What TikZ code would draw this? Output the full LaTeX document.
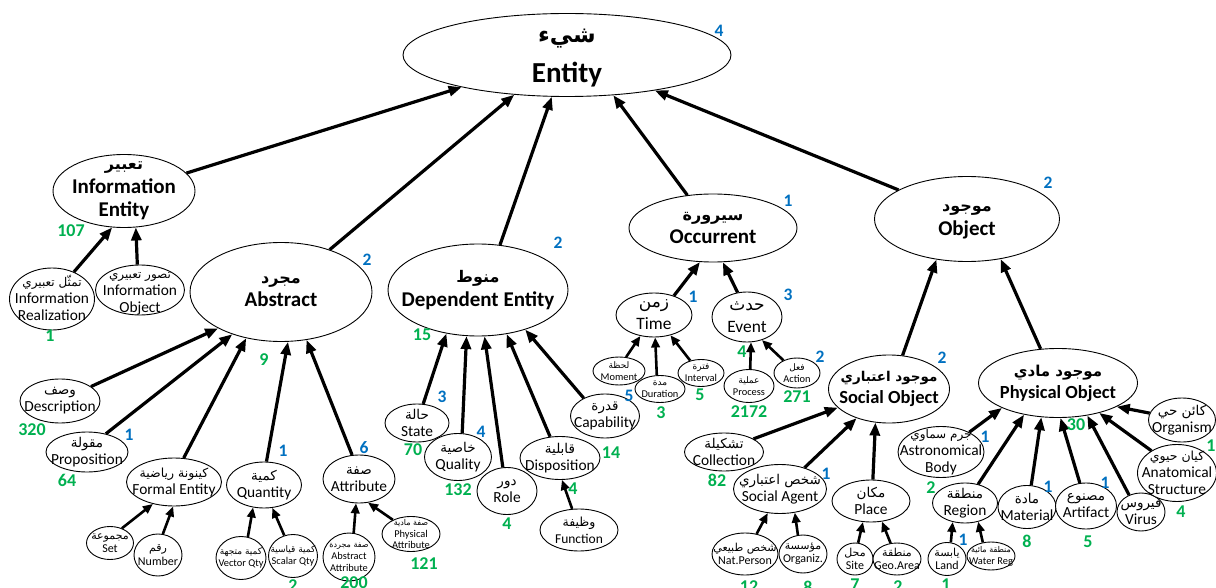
\documentclass[tikz,border=0pt]{standalone}
\usepackage{fontspec}
\setmainfont{Carlito}
\newfontfamily\arf[Script=Arabic]{DejaVu Sans}
\TeXXeTstate=1
\usetikzlibrary{shapes.geometric,arrows.meta}
\definecolor{gnum}{RGB}{0,176,80}
\definecolor{bnum}{RGB}{0,112,192}
\def\arsz{12}
\newcommand\AR[1]{{\arf\fontsize{\arsz}{\arsz}\selectfont #1}}
\newcommand\EN[8]{%
  \node[ell,minimum width=#4pt,minimum height=#5pt] (#1) at (#2,#3) {};
  \node[#6] (#1t) at (#1) {\AR{#7}\\#8};}
\newcommand\NM[5]{\node[#4] (#1) at (#2,#3) {#5};}
\tikzset{
  ars/.code={\def\arsz{#1}},
  ell/.style={draw,ellipse,line width=0.9pt,inner sep=0pt,fill=white},
  t0/.style={align=center,inner sep=0pt,font=\fontsize{29}{40}\selectfont\bfseries,ars=23},
  t1/.style={align=center,inner sep=0pt,font=\fontsize{21}{23.5}\selectfont\bfseries,ars=16},
  t2/.style={align=center,inner sep=0pt,font=\fontsize{15.4}{17}\selectfont,ars=13.5},
  tf/.style={align=center,inner sep=0pt,font=\fontsize{13.5}{17}\selectfont,ars=12.5},
  t2e/.style={align=center,inner sep=0pt,font=\fontsize{17.4}{22}\selectfont,ars=17},
  t2o/.style={align=center,inner sep=0pt,font=\fontsize{18.5}{22}\selectfont\bfseries,ars=15},
  t3/.style={align=center,inner sep=0pt,font=\fontsize{10.4}{11.8}\selectfont,ars=9},
  t3b/.style={align=center,inner sep=0pt,font=\fontsize{12}{13.5}\selectfont,ars=11},
  gn/.style={inner sep=0pt,text=gnum,font=\fontsize{18}{18}\selectfont\bfseries},
  bl/.style={inner sep=0pt,text=bnum,font=\fontsize{17.5}{17.5}\selectfont\bfseries},
  arr/.style={line width=3.2pt,-{Triangle[length=13pt,width=10pt]}},
  arrs/.style={line width=2.6pt,-{Triangle[length=10pt,width=8.5pt]}},
}
\begin{document}
\begin{tikzpicture}[x=1pt,y=-1pt]
\useasboundingbox (0,0) rectangle (1216,588);
\EN{ent}{567}{55}{328}{83}{t0,yshift=-3pt}{\beginR شيء\endR}{Entity}
\EN{ie}{124}{191}{142}{73}{t1}{\beginR تعبير\endR}{Information\\Entity}
\EN{ir}{52}{299}{85}{62}{t2,ars=12,yshift=1pt}{\beginR تمثّل تعبيري\endR}{Information\\Realization}
\EN{io}{140}{290}{89}{50}{t2,ars=12,yshift=-4pt}{\beginR تصور تعبيري\endR}{Information\\Object}
\EN{abs}{281}{292}{182}{99}{t1}{\beginR مجرد\endR}{Abstract}
\EN{dep}{478}{290}{180}{92}{t1}{\beginR منوط\endR}{Dependent Entity}
\EN{occ}{713}{228}{168}{68}{t1}{\beginR سيرورة\endR}{Occurrent}
\EN{obj}{967}{219}{185}{85}{t1,yshift=-3pt}{\beginR موجود\endR}{Object}
\EN{desc}{60}{401}{80}{44}{t2}{\beginR وصف\endR}{Description}
\EN{prop}{87}{452}{82}{40}{t2}{\beginR مقولة\endR}{Proposition}
\EN{fe}{174}{482}{95}{48}{t2,ars=12.5}{\beginR كينونة رياضية\endR}{Formal Entity}
\EN{qty}{264}{485}{75}{46}{t2}{\beginR كمية\endR}{Quantity}
\EN{attr}{359}{479}{72}{48}{t2}{\beginR صفة\endR}{Attribute}
\EN{set}{110}{543}{47}{33}{t3b}{\beginR مجموعة\endR}{Set}
\EN{num}{158}{555}{48}{42}{t3b}{\beginR رقم\endR}{Number}
\EN{vec}{241}{558}{50}{43}{t3}{\beginR كمية متجهة\endR}{Vector Qty}
\EN{sca}{293}{556}{49}{43}{t3}{\beginR كمية قياسية\endR}{Scalar Qty}
\EN{absat}{349}{557}{52}{48}{t3,ars=8}{\beginR صفة مجردة\endR}{Abstract\\Attribute}
\EN{phyat}{411}{534}{58}{35}{t3,ars=8}{\beginR صفة مادية\endR}{Physical\\Attribute}
\EN{state}{417}{423}{64}{38}{t2}{\beginR حالة\endR}{State}
\EN{qual}{458}{457}{67}{47}{t2}{\beginR خاصية\endR}{Quality}
\EN{role}{507}{491}{60}{47}{t2}{\beginR دور\endR}{Role}
\EN{disp}{560}{458}{80}{43}{t2}{\beginR قابلية\endR}{Disposition}
\EN{cap}{605}{416}{69}{44}{t2}{\beginR قدرة\endR}{Capability}
\EN{func}{579}{530}{78}{42}{tf}{\beginR وظيفة\endR}{Function}
\EN{time}{654}{315}{76}{44}{t2e}{\beginR زمن\endR}{Time}
\EN{event}{747}{317}{70}{50}{t2e}{\beginR حدث\endR}{Event}
\EN{mom}{619}{371}{52}{28}{t3}{\beginR لحظة\endR}{Moment}
\EN{dur}{660}{389}{50}{27}{t3}{\beginR مدة\endR}{Duration}
\EN{int}{701}{373}{46}{27}{t3}{\beginR فترة\endR}{Interval}
\EN{proc}{749}{386}{50}{33}{t3}{\beginR عملية\endR}{Process}
\EN{act}{797}{373}{46}{30}{t3}{\beginR فعل\endR}{Action}
\EN{so}{889}{389}{121}{68}{t2o,ars=13.5}{\beginR موجود اعتباري\endR}{Social Object}
\EN{po}{1058}{383}{159}{69}{t2o}{\beginR موجود مادي\endR}{Physical Object}
\EN{coll}{724}{452}{79}{38}{t2}{\beginR تشكيلة\endR}{Collection}
\EN{sa}{780}{489}{93}{49}{t2}{\beginR شخص اعتباري\endR}{Social Agent}
\EN{place}{871}{501}{78}{42}{t2}{\beginR مكان\endR}{Place}
\EN{np}{745}{554}{66}{42}{t3b}{\beginR شخص طبيعي\endR}{Nat.Person}
\EN{org}{803}{554}{48}{38}{t3b}{\beginR مؤسسة\endR}{Organiz.}
\EN{site}{855}{559}{36}{32}{t3b}{\beginR محل\endR}{Site}
\EN{geo}{897}{559}{48}{32}{t3b}{\beginR منطقة\endR}{Geo.Area}
\EN{ab}{941}{452}{86}{51}{t2,ars=12}{\beginR جرم سماوي\endR}{Astronomical\\Body}
\EN{reg}{965}{503}{65}{40}{t2}{\beginR منطقة\endR}{Region}
\EN{land}{947}{559}{38}{33}{t3b}{\beginR يابسة\endR}{Land}
\EN{wat}{991}{556}{48}{28}{t3,ars=8}{\beginR منطقة مائية\endR}{Water Reg}
\EN{mat}{1027}{507}{58}{43}{t2}{\beginR مادة\endR}{Material}
\EN{art}{1086}{506}{61}{46}{t2}{\beginR مصنوع\endR}{Artifact}
\EN{vir}{1141}{512}{48}{38}{t2}{\beginR فيروس\endR}{Virus}
\EN{anat}{1177}{473}{79}{57}{t2,ars=12.5}{\beginR كيان حيوي\endR}{Anatomical\\Structure}
\EN{orgm}{1182}{420}{67}{44}{t2}{\beginR كائن حي\endR}{Organism}
% connectors
\draw[arr] (ie.16) -- (ent.197);
\draw[arr] (abs.41) -- (ent.217);
\draw[arr] (dep.64) -- (ent.250);
\draw[arr] (occ.128) -- (ent.319);
\draw[arr] (obj.157) -- (ent.338);
\draw[arr] (ir.51) -- (ie.252);
\draw[arr] (io.96) -- (ie.288);
\draw[arr] (desc.25) -- (abs.210);
\draw[arr] (prop.44) -- (abs.221);
\draw[arr] (fe.68) -- (abs.233);
\draw[arr] (qty.84) -- (abs.278);
\draw[arr] (attr.106) -- (abs.298);
\draw[arrs] (set.51) -- (fe.226);
\draw[arrs] (num.77) -- (fe.268);
\draw[arrs] (vec.72) -- (qty.244);
\draw[arrs] (sca.113) -- (qty.290);
\draw[arrs] (absat.79) -- (attr.263);
\draw[arrs] (phyat.142) -- (attr.291);
\draw[arr] (state.72) -- (dep.234);
\draw[arr] (qual.80) -- (dep.256);
\draw[arr] (role.100) -- (dep.278);
\draw[arr] (disp.115) -- (dep.303);
\draw[arr] (cap.140) -- (dep.320);
\draw[arrs] (func.108) -- (disp.275);
\draw[arr] (time.44) -- (occ.249);
\draw[arr] (event.111) -- (occ.286);
\draw[arrs] (mom.63) -- (time.237);
\draw[arrs] (dur.103) -- (time.273);
\draw[arrs] (int.131) -- (time.309);
\draw[arrs] (proc.86) -- (event.279);
\draw[arrs] (act.137) -- (event.303);
\draw[arr] (so.68) -- (obj.233);
\draw[arr] (po.117) -- (obj.310);
\draw[arr] (coll.24) -- (so.200);
\draw[arr] (sa.41) -- (so.222);
\draw[arr] (place.85) -- (so.248);
\draw[arrs] (np.60) -- (sa.243);
\draw[arrs] (org.105) -- (sa.302);
\draw[arrs] (site.79) -- (place.249);
\draw[arrs] (geo.112) -- (place.298);
\draw[arr] (ab.35) -- (po.204);
\draw[arr] (reg.55) -- (po.223);
\draw[arr] (mat.79) -- (po.244);
\draw[arr] (art.105) -- (po.274);
\draw[arr] (vir.125) -- (po.312);
\draw[arr] (anat.139) -- (po.324);
\draw[arr] (orgm.168) -- (po.338);
\draw[arrs] (land.77) -- (reg.237);
\draw[arrs] (wat.121) -- (reg.305);
% counts
\NM{n1}{719}{31}{bl}{4}
\NM{n2}{788}{201}{bl}{1}
\NM{n3}{1048}{183}{bl}{2}
\NM{n4}{71}{231}{gn}{107}
\NM{n5}{50}{336}{gn}{1}
\NM{n6}{367}{260}{bl}{2}
\NM{n7}{264}{360}{gn}{9}
\NM{n8}{558}{243}{bl}{2}
\NM{n9}{422}{335}{gn}{15}
\NM{n10}{32}{430}{gn}{320}
\NM{n11}{129}{435}{bl}{1}
\NM{n12}{67}{480}{gn}{64}
\NM{n13}{283}{451}{bl}{1}
\NM{n14}{364}{448}{bl}{6}
\NM{n15}{293}{586}{gn}{2}
\NM{n16}{354}{583}{gn}{200}
\NM{n17}{424}{564}{gn}{121}
\NM{n18}{442}{397}{bl}{3}
\NM{n19}{413}{450}{gn}{70}
\NM{n20}{481}{432}{bl}{4}
\NM{n21}{458}{490}{gn}{132}
\NM{n22}{507}{524}{gn}{4}
\NM{n23}{573}{489}{gn}{4}
\NM{n24}{611}{453}{gn}{14}
\NM{n25}{693}{297}{bl}{1}
\NM{n26}{788}{295}{bl}{3}
\NM{n27}{629}{396}{bl}{5}
\NM{n28}{661}{413}{gn}{3}
\NM{n29}{700}{395}{gn}{5}
\NM{n30}{742}{352}{gn}{4}
\NM{n31}{749}{412}{gn}{2172}
\NM{n32}{820}{357}{bl}{2}
\NM{n33}{797}{397}{gn}{271}
\NM{n34}{942}{358}{bl}{2}
\NM{n35}{1076}{425}{gn}{30}
\NM{n36}{717}{480}{gn}{82}
\NM{n37}{826}{474}{bl}{1}
\NM{n38}{749}{587}{gn}{12}
\NM{n39}{808}{587}{gn}{8}
\NM{n40}{855}{585}{gn}{7}
\NM{n41}{898}{587}{gn}{2}
\NM{n42}{985}{437}{bl}{1}
\NM{n43}{931}{488}{gn}{2}
\NM{n44}{963}{540}{bl}{1}
\NM{n45}{946}{585}{gn}{1}
\NM{n46}{1048}{487}{bl}{1}
\NM{n47}{1027}{541}{gn}{8}
\NM{n48}{1105}{483}{bl}{1}
\NM{n49}{1088}{542}{gn}{5}
\NM{n50}{1181}{512}{gn}{4}
\NM{n51}{1211}{446}{gn}{1}
\end{tikzpicture}
\end{document}
